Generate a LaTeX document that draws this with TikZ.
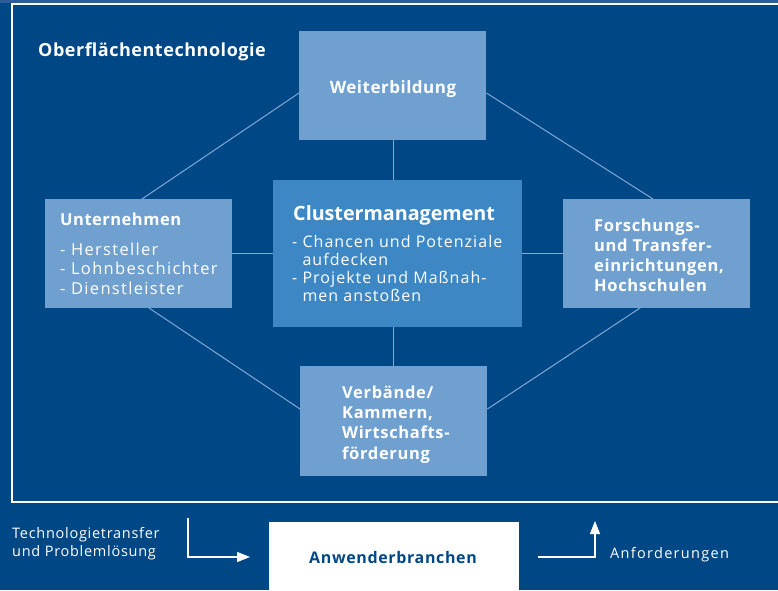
\documentclass[tikz,border=0pt]{standalone}
\usepackage{fontspec}
\setmainfont{Open Sans}
\usetikzlibrary{arrows.meta}
\definecolor{bgblue}{HTML}{004785}
\definecolor{lightbox}{HTML}{70A0D0}
\definecolor{midbox}{HTML}{3D88C4}
\definecolor{linkcol}{HTML}{7FA9D8}
\definecolor{topstrip}{HTML}{2B5E98}
\newcommand{\fs}[3]{\fontsize{#1}{#2}\selectfont\addfontfeatures{LetterSpace=#3}}
\begin{document}
\begin{tikzpicture}[x=1pt,y=-1pt,
  boxA/.style={fill=lightbox, draw=none},
  boxB/.style={fill=midbox, draw=none},
  link/.style={draw=linkcol, line width=1pt},
  txt/.style={text=white, inner sep=0pt, align=left},
  arr/.style={draw=white, line width=1.2pt, -{Triangle[length=13pt,width=10pt]}}
]
\useasboundingbox (0,0) rectangle (778,590);
\fill[bgblue] (0,0) rectangle (778,590);
\fill[topstrip] (0,0) rectangle (778,3);
\draw[white, line width=1.5pt] (800,4) -- (12,4) -- (12,502) -- (800,502);

% boxes
\node[boxA, minimum width=187, minimum height=109, anchor=north west] (wb) at (299,31) {};
\node[boxB, minimum width=249, minimum height=147, anchor=north west] (cm) at (273,180) {};
\node[boxA, minimum width=187, minimum height=109, anchor=north west] (un) at (45,199) {};
\node[boxA, minimum width=187, minimum height=109, anchor=north west] (fo) at (563,199) {};
\node[boxA, minimum width=187, minimum height=110, anchor=north west] (vb) at (300,366) {};
\node[fill=white, minimum width=250, minimum height=68, anchor=north west] (an) at (269,522) {};

% connectors
\draw[link] (393,140) -- (393,180);
\draw[link] (393,327) -- (393,366);
\draw[link] (un.east |- 0,253) -- (cm.west |- 0,253);
\draw[link] (cm.east |- 0,253) -- (fo.west |- 0,253);
\draw[link] (wb.west |- 0,93) -- (142,199);
\draw[link] (wb.east |- 0,93) -- (653,199);
\draw[link] (149,308) -- (vb.west |- 0,409);
\draw[link] (640,308) -- (vb.east |- 0,409);

% texts (base anchor = baseline of last line)
\node[txt, font=\fs{18}{22}{3}\bfseries, anchor=base west] (ot) at (38,56) {Oberflächentechnologie};
\node[txt, font=\fs{17}{20}{3}\bfseries, anchor=base] (wbt) at (393,93) {Weiterbildung};
\node[txt, font=\fs{19.7}{22}{0}\bfseries, anchor=base west] (cmt) at (293,220) {Clustermanagement};
\node[txt, font=\fs{16}{18}{6.5}, anchor=base west] (cmb) at (292,301.5)
 {- Chancen und Potenziale\\\phantom{- }aufdecken\\- Projekte und Maßnah-\\\phantom{- }men anstoßen};
\node[txt, font=\fs{16.5}{20}{3}\bfseries, anchor=base west] (unt) at (60,225) {Unternehmen};
\node[txt, font=\fs{16.5}{19.7}{8}, anchor=base west] (unb) at (60,294.4) {- Hersteller\\- Lohnbeschichter\\- Dienstleister};
\node[txt, font=\fs{16.5}{20}{4}\bfseries, anchor=base west] (fot) at (594,291) {Forschungs-\\und Transfer-\\einrichtungen,\\Hochschulen};
\node[txt, font=\fs{16.5}{20.3}{4}\bfseries, anchor=base west] (vbt) at (342,459) {Verbände/\\Kammern,\\Wirtschafts-\\förderung};
\node[txt, text=bgblue, font=\fs{16}{18}{4}\bfseries, anchor=base] (ant) at (393,563) {Anwenderbranchen};
\node[txt, font=\fs{14.5}{18}{5}, anchor=base west] (tt) at (12,556) {Technologietransfer\\und Problemlösung};
\node[txt, font=\fs{14.5}{18}{9}, anchor=base west] (af) at (610,558) {Anforderungen};

% arrows
\coordinate (l0) at (188,518);
\coordinate (l1) at (250,557);
\coordinate (r0) at (538,557);
\coordinate (r1) at (595,521);
\draw[arr] (l0) |- (l1);
\draw[arr] (r0) -| (r1);
\end{tikzpicture}
\end{document}
